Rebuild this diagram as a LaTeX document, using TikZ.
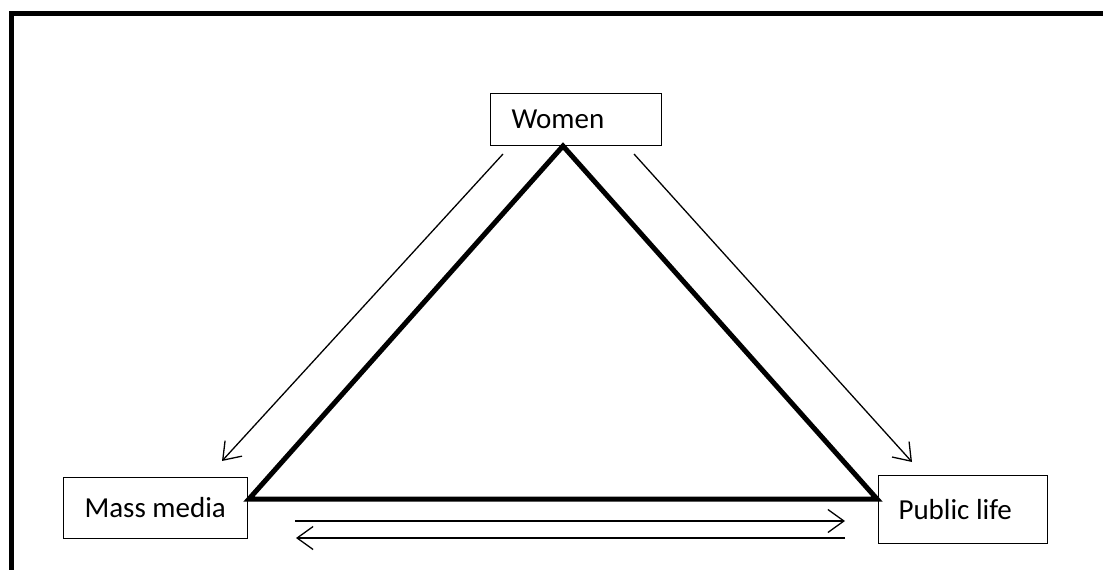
\documentclass[tikz,border=0pt]{standalone}
\usepackage{fontspec}
\setmainfont{Carlito}
\usetikzlibrary{arrows.meta,calc}
\tikzset{
  lbox/.style={draw, line width=1pt, anchor=north west, inner xsep=21pt, inner ysep=0pt,
    font=\fontsize{29}{32}\selectfont},
  thin arrow/.style={line width=1.3pt, -{Straight Barb[length=16pt,width=23pt,line width=1.3pt]}},
  tri/.style={line width=5pt, line join=miter},
  frame/.style={line width=5pt}
}
\begin{document}
\begin{tikzpicture}[x=1pt,y=-1pt]
\useasboundingbox (0,0) rectangle (1103,570);
\clip (0,0) rectangle (1103,570);
\draw[frame] (11,13.5) rectangle (1120,600);
% boxes
\node[lbox, minimum height=52pt] (women) at (490,93) {\makebox[129pt][l]{Women}};
\node[lbox, minimum height=61pt] (mm) at (63,477) {\makebox[142pt][l]{Mass media}};
\node[lbox, minimum height=68pt, inner xsep=20pt] (pl) at (878,475) {\makebox[129pt][l]{Public life}};
% triangle vertices
\coordinate (apex) at ($(women.south west)+(73,0)$);
\coordinate (lv) at ($(mm.north east)+(1,22)$);
\coordinate (rv) at ($(pl.north west)+(-1,24)$);
\draw[tri] (apex) -- (lv) -- (rv) -- cycle;
% arrows
\coordinate (wl) at ($(women.south west)+(13,8)$);
\coordinate (wr) at ($(women.south west)+(144,8)$);
\coordinate (mmt) at ($(mm.north west)+(159,-16)$);
\coordinate (plt) at ($(pl.north west)+(34,-13)$);
\draw[thin arrow] (wl) -- (mmt);
\draw[thin arrow] (wr) -- (plt);
\coordinate (a1) at (295,521);
\coordinate (a2) at (845,521);
\coordinate (b1) at (845,538);
\coordinate (b2) at (296,538);
\draw[thin arrow] (a1) -- (a2);
\draw[thin arrow] (b1) -- (b2);
\end{tikzpicture}
\end{document}
